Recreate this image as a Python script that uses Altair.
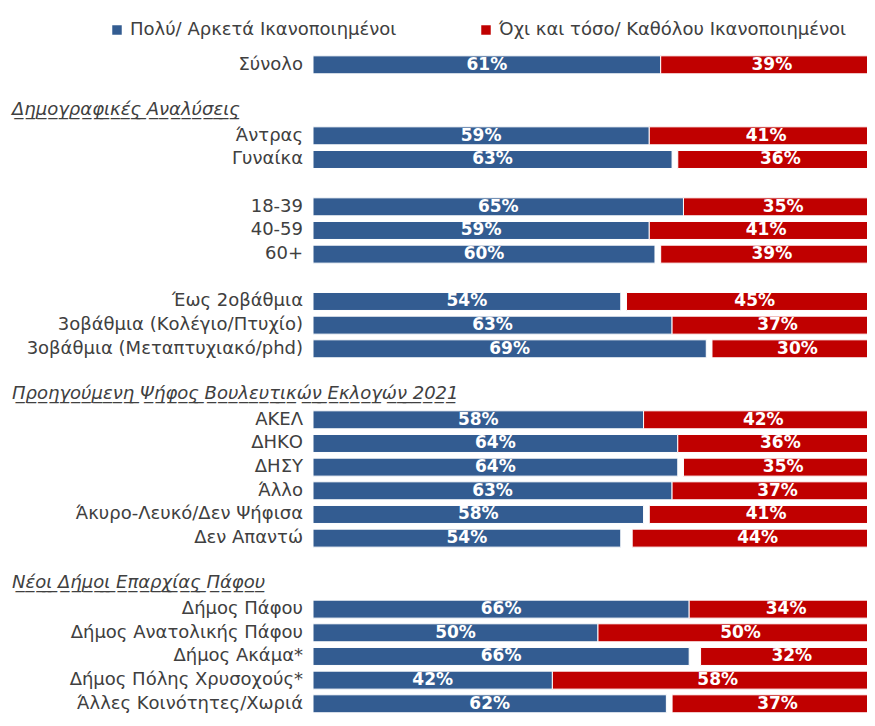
import altair as alt
import pandas as pd

# ---- data ----
labels = ["Σύνολο",
          "Άντρας", "Γυναίκα",
          "18-39", "40-59", "60+",
          "Έως 2οβάθμια", "3οβάθμια (Κολέγιο/Πτυχίο)", "3οβάθμια (Μεταπτυχιακό/phd)",
          "ΑΚΕΛ", "ΔΗΚΟ", "ΔΗΣΥ", "Άλλο", "Άκυρο-Λευκό/Δεν Ψήφισα", "Δεν Απαντώ",
          "Δήμος Πάφου", "Δήμος Ανατολικής Πάφου", "Δήμος Ακάμα*", "Δήμος Πόλης Χρυσοχούς*",
          "Άλλες Κοινότητες/Χωριά"]
rows = [0, 3, 4, 6, 7, 8, 10, 11, 12, 15, 16, 17, 18, 19, 20, 23, 24, 25, 26, 27]
satisfied = [61, 59, 63, 65, 59, 60, 54, 63, 69, 58, 64, 64, 63, 58, 54, 66, 50, 66, 42, 62]
not_satisfied = [39, 41, 36, 35, 41, 39, 45, 37, 30, 42, 36, 35, 37, 41, 44, 34, 50, 32, 58, 37]

headers = ["Δημογραφικές Αναλύσεις",
           "Προηγούμενη Ψήφος Βουλευτικών Εκλογών 2021",
           "Νέοι Δήμοι Επαρχίας Πάφου"]
header_rows = [2, 14, 22]

series = ["Πολύ/ Αρκετά Ικανοποιημένοι", "Όχι και τόσο/ Καθόλου Ικανοποιημένοι"]
colors = ["#335C91", "#C00000"]

FONT = "DejaVu Sans"
TEXT = "#404040"

# ---- tables ----
base = pd.DataFrame({"label": labels, "row": rows,
                     "pos": satisfied, "neg": not_satisfied})
seg_pos = pd.DataFrame({"row": base.row, "series": series[0],
                        "start": 0, "end": base.pos, "val": base.pos})
seg_neg = pd.DataFrame({"row": base.row, "series": series[1],
                        "start": 100 - base.neg, "end": 100, "val": base.neg})
segs = pd.concat([seg_pos, seg_neg], ignore_index=True)
hdr = pd.DataFrame({"text": ["".join(c + "\u0332" for c in h) for h in headers],
                    "row": header_rows})

# plot area: page x 313..867, 5.7 px per percent -> visible 0..97.2 %
xs = alt.Scale(domain=[0, 97.2])
# rows at ~23.67 px pitch so that the last row still fits in the page
ys = alt.Scale(domain=[-0.5, 27.6], reverse=True)

bars = alt.Chart(segs).transform_calculate(
    y0="datum.row - 0.38", y1="datum.row + 0.38"
).mark_bar(clip=True, stroke="white", strokeWidth=1).encode(
    x=alt.X("start:Q", scale=xs, axis=None),
    x2="end:Q",
    y=alt.Y("y0:Q", scale=ys, axis=None),
    y2="y1:Q",
    color=alt.Color("series:N", sort=series,
                    scale=alt.Scale(domain=series, range=colors),
                    legend=alt.Legend(title=None, orient="none", direction="horizontal",
                                      legendX=-205, legendY=-32,
                                      symbolType="square", symbolSize=90,
                                      symbolStrokeWidth=0, labelOffset=4,
                                      labelFont=FONT, labelFontSize=18,
                                      labelColor=TEXT, columnPadding=80,
                                      labelLimit=400)),
)

vals = alt.Chart(segs).transform_calculate(
    mid="(datum.start + datum.end) / 2",
    txt="datum.val + '%'"
).mark_text(clip=True, color="white", font=FONT, fontSize=17,
            fontWeight="bold", baseline="middle").encode(
    x=alt.X("mid:Q", scale=xs),
    y=alt.Y("row:Q", scale=ys),
    text="txt:N",
)

cats = alt.Chart(base).mark_text(align="right", baseline="middle", dx=-10,
                                 font=FONT, fontSize=18, color=TEXT).encode(
    x=alt.value(0),
    y=alt.Y("row:Q", scale=ys),
    text="label:N",
)

heads = alt.Chart(hdr).mark_text(align="left", baseline="middle", dy=-2,
                                 font=FONT, fontSize=18, fontStyle="italic",
                                 color=TEXT).encode(
    x=alt.value(-301),
    y=alt.Y("row:Q", scale=ys),
    text="text:N",
)

chart = alt.layer(bars, vals, cats, heads).properties(
    width=554, height=665,
    autosize=alt.AutoSizeParams(type="none"),
    padding={"left": 305, "top": 45, "right": 0, "bottom": 0},
).configure_view(stroke=None)

chart.save("out.html", embed_options={"renderer": "svg", "actions": False})
